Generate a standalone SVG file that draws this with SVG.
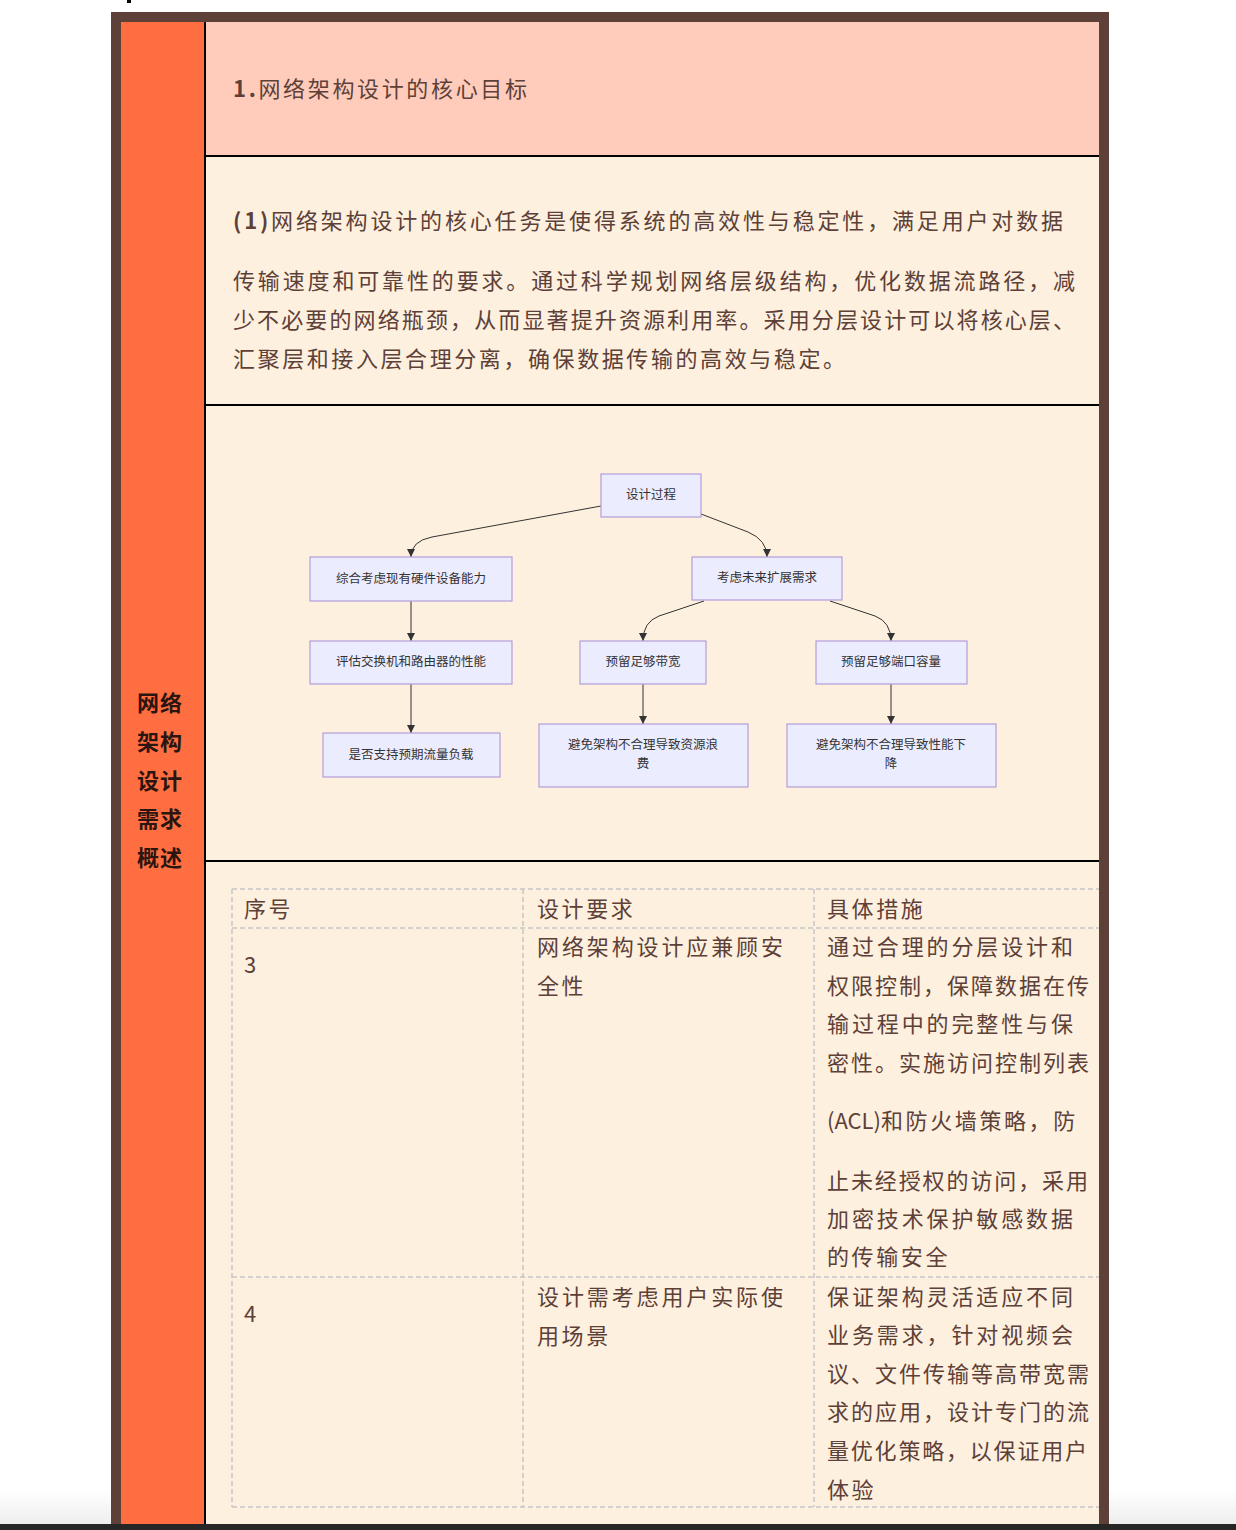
<svg xmlns="http://www.w3.org/2000/svg" width="1236" height="1530" viewBox="0 0 1236 1530">
  <defs>
    <linearGradient id="floorShade" x1="0" y1="0" x2="0" y2="1">
      <stop offset="0" stop-color="#ffffff"/>
      <stop offset="1" stop-color="#eeeeee"/>
    </linearGradient>
    <marker id="arrow" viewBox="0 0 10 10" refX="10" refY="5" markerWidth="8" markerHeight="8" markerUnits="userSpaceOnUse" orient="auto">
      <path d="M0,0 L10,5 L0,10 z" fill="#333333"/>
    </marker>
    <style>
      .body { font-family: "Noto Sans CJK SC", "Noto Sans", sans-serif; font-size: 22px; fill: #5D4037; }
      .b { font-weight: bold; }
      .side { font-family: "Noto Sans CJK SC", sans-serif; font-size: 22px; font-weight: bold; fill: #2b1510; letter-spacing: 1px; }
      .sp { letter-spacing: 2.6px; }
      .node rect { fill: #ECECFF; stroke: #b39ddb; stroke-width: 1.2; }
      .node text { font-family: "Noto Sans CJK SC", sans-serif; font-size: 12.5px; fill: #333333; text-anchor: middle; }
      .edge { fill: none; stroke: #333333; stroke-width: 1; marker-end: url(#arrow); }
      .grid { stroke: #c6c6c6; stroke-width: 1.5; stroke-dasharray: 5 3; fill: none; }
      .rule { stroke: #000000; stroke-width: 2; }
    </style>
  </defs>

  <!-- page background -->
  <rect x="0" y="0" width="1236" height="1530" fill="#ffffff"/>
  <rect x="0" y="1490" width="1236" height="34" fill="url(#floorShade)"/>
  <rect x="127" y="0" width="4" height="3" fill="#000000"/>

  <!-- frame and panels -->
  <rect x="111" y="12" width="998" height="1518" fill="#5D4037"/>
  <rect x="121" y="22" width="85" height="1508" fill="#FF6E40"/>
  <rect x="206" y="22" width="893" height="134" fill="#FFCCBC"/>
  <rect x="206" y="156" width="893" height="1374" fill="#FEF0DF"/>
  <line class="rule" x1="205" y1="22" x2="205" y2="1530"/>
  <line class="rule" x1="206" y1="156" x2="1099" y2="156"/>
  <line class="rule" x1="206" y1="405" x2="1099" y2="405"/>
  <line class="rule" x1="206" y1="861" x2="1099" y2="861"/>

  <!-- sidebar title -->
  <g id="sidebar-title">
    <text class="side" x="137" y="711">网络</text>
    <text class="side" x="137" y="750">架构</text>
    <text class="side" x="137" y="789">设计</text>
    <text class="side" x="137" y="827">需求</text>
    <text class="side" x="137" y="866">概述</text>
  </g>

  <!-- heading -->
  <g id="heading">
    <text class="body" x="233" y="97" textLength="294" lengthAdjust="spacing"><tspan class="b">1.</tspan>网络架构设计的核心目标</text>
  </g>

  <!-- paragraph -->
  <g id="paragraph">
    <text class="body" x="233" y="229" textLength="830" lengthAdjust="spacing"><tspan class="b">(1)</tspan>网络架构设计的核心任务是使得系统的高效性与稳定性，满足用户对数据</text>
    <text class="body" x="233" y="289" textLength="842" lengthAdjust="spacing">传输速度和可靠性的要求。通过科学规划网络层级结构，优化数据流路径，减</text>
    <text class="body" x="233" y="328" textLength="842" lengthAdjust="spacing">少不必要的网络瓶颈，从而显著提升资源利用率。采用分层设计可以将核心层、</text>
    <text class="body" x="233" y="367" textLength="612" lengthAdjust="spacing">汇聚层和接入层合理分离，确保数据传输的高效与稳定。</text>
  </g>

  <!-- flowchart connectors -->
  <g id="connectors">
    <path class="edge" d="M601,506 L432,537 Q411,541 411,557"/>
    <path class="edge" d="M701,514 L748,532 Q767,540 767,557"/>
    <path class="edge" d="M411,601 L411,641"/>
    <path class="edge" d="M411,684 L411,733"/>
    <path class="edge" d="M704,601 L659,616 Q643,622 643,641"/>
    <path class="edge" d="M830,601 L875,616 Q891,622 891,641"/>
    <path class="edge" d="M643,684 L643,724"/>
    <path class="edge" d="M891,684 L891,724"/>
  </g>

  <!-- flowchart nodes -->
  <g id="n-process" class="node">
    <rect x="601" y="474" width="100" height="43"/>
    <text x="651" y="499">设计过程</text>
  </g>
  <g id="n-hardware" class="node">
    <rect x="310" y="557" width="202" height="44"/>
    <text x="411" y="583">综合考虑现有硬件设备能力</text>
  </g>
  <g id="n-future" class="node">
    <rect x="692" y="557" width="150" height="43"/>
    <text x="767" y="582">考虑未来扩展需求</text>
  </g>
  <g id="n-evaluate" class="node">
    <rect x="310" y="641" width="202" height="43"/>
    <text x="411" y="666">评估交换机和路由器的性能</text>
  </g>
  <g id="n-bandwidth" class="node">
    <rect x="580" y="641" width="126" height="43"/>
    <text x="643" y="666">预留足够带宽</text>
  </g>
  <g id="n-ports" class="node">
    <rect x="816" y="641" width="151" height="43"/>
    <text x="891" y="666">预留足够端口容量</text>
  </g>
  <g id="n-load" class="node">
    <rect x="323" y="733" width="177" height="44"/>
    <text x="411" y="759">是否支持预期流量负载</text>
  </g>
  <g id="n-waste" class="node">
    <rect x="539" y="724" width="209" height="63"/>
    <text x="643" y="749">避免架构不合理导致资源浪</text>
    <text x="643" y="768">费</text>
  </g>
  <g id="n-degrade" class="node">
    <rect x="787" y="724" width="209" height="63"/>
    <text x="891" y="749">避免架构不合理导致性能下</text>
    <text x="891" y="768">降</text>
  </g>

  <!-- requirements table -->
  <g id="table-grid">
    <path class="grid" d="M232,889 H1099 M232,928 H1099 M232,1277 H1099 M232,1507 H1099"/>
    <path class="grid" d="M232,889 V1507 M523,889 V1507 M814,889 V1507"/>
  </g>
  <g id="table-text">
    <text class="body sp" x="244" y="917">序号</text>
    <text class="body sp" x="537" y="917">设计要求</text>
    <text class="body sp" x="827" y="917">具体措施</text>

    <text class="body" x="244" y="973">3</text>
    <text class="body" x="537" y="955" textLength="246" lengthAdjust="spacing">网络架构设计应兼顾安</text>
    <text class="body sp" x="537" y="994">全性</text>
    <text class="body" x="827" y="955" textLength="246" lengthAdjust="spacing">通过合理的分层设计和</text>
    <text class="body" x="827" y="994" textLength="262" lengthAdjust="spacing">权限控制，保障数据在传</text>
    <text class="body" x="827" y="1032" textLength="246" lengthAdjust="spacing">输过程中的完整性与保</text>
    <text class="body" x="827" y="1071" textLength="262" lengthAdjust="spacing">密性。实施访问控制列表</text>
    <text class="body" x="827" y="1129"><tspan>(ACL)</tspan><tspan class="sp">和防火墙策略，防</tspan></text>
    <text class="body" x="827" y="1189" textLength="261" lengthAdjust="spacing">止未经授权的访问，采用</text>
    <text class="body" x="827" y="1227" textLength="246" lengthAdjust="spacing">加密技术保护敏感数据</text>
    <text class="body sp" x="827" y="1265">的传输安全</text>

    <text class="body" x="244" y="1322">4</text>
    <text class="body" x="537" y="1305" textLength="246" lengthAdjust="spacing">设计需考虑用户实际使</text>
    <text class="body sp" x="537" y="1344">用场景</text>
    <text class="body" x="827" y="1305" textLength="246" lengthAdjust="spacing">保证架构灵活适应不同</text>
    <text class="body" x="827" y="1343" textLength="246" lengthAdjust="spacing">业务需求，针对视频会</text>
    <text class="body" x="827" y="1382" textLength="262" lengthAdjust="spacing">议、文件传输等高带宽需</text>
    <text class="body" x="827" y="1420" textLength="262" lengthAdjust="spacing">求的应用，设计专门的流</text>
    <text class="body" x="827" y="1459" textLength="260" lengthAdjust="spacing">量优化策略，以保证用户</text>
    <text class="body sp" x="827" y="1498">体验</text>
  </g>

  <!-- bottom edge -->
  <rect x="0" y="1524" width="1236" height="6" fill="#262626"/>
</svg>
